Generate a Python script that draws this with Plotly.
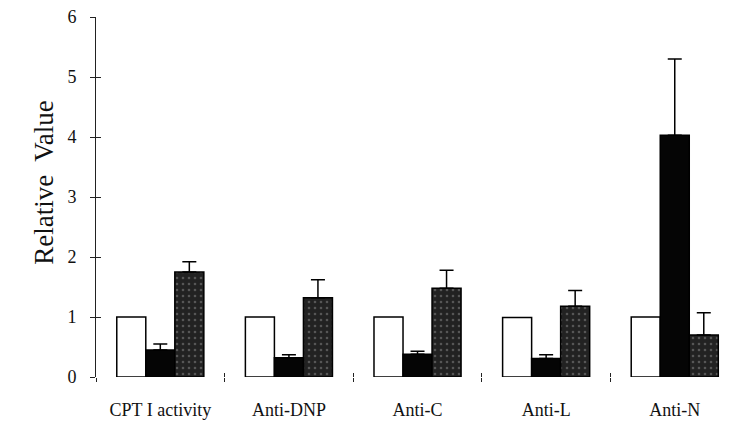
import plotly.graph_objects as go

categories = ["CPT I activity", "Anti-DNP", "Anti-C", "Anti-L", "Anti-N"]
white_vals = [1.0, 1.0, 1.0, 0.99, 1.0]
black_vals = [0.45, 0.32, 0.38, 0.31, 4.03]
black_err = [0.10, 0.05, 0.05, 0.06, 1.27]
gray_vals = [1.75, 1.32, 1.48, 1.18, 0.70]
gray_err = [0.17, 0.30, 0.30, 0.26, 0.37]
y_ticks = [0, 1, 2, 3, 4, 5, 6]
y_title = "Relative  Value"

FONT = "Liberation Serif, Times New Roman, serif"

fig = go.Figure()
fig.add_trace(go.Bar(
    x=categories, y=white_vals, name="control",
    marker=dict(color="white", line=dict(color="black", width=1.5)),
))
fig.add_trace(go.Bar(
    x=categories, y=black_vals, name="black",
    marker=dict(color="#050505", line=dict(color="black", width=1.5)),
    error_y=dict(type="data", array=black_err, arrayminus=[0] * len(black_err),
                 symmetric=False, color="black", thickness=1.5, width=7),
))
fig.add_trace(go.Bar(
    x=categories, y=gray_vals, name="gray",
    marker=dict(color="#222222", line=dict(color="black", width=1.5),
                pattern=dict(shape=".", fillmode="overlay", bgcolor="#222222",
                             fgcolor="#8a8a8a", size=6, solidity=0.15)),
    error_y=dict(type="data", array=gray_err, arrayminus=[0] * len(gray_err),
                 symmetric=False, color="black", thickness=1.5, width=7),
))
# invisible helper trace for crossing ("+") ticks
fig.add_trace(go.Scatter(
    x=categories, y=white_vals, xaxis="x2", yaxis="y2", mode="markers",
    marker=dict(opacity=0), hoverinfo="skip", showlegend=False,
))

fig.update_layout(
    width=737, height=421,
    margin=dict(l=96, r=0, t=17, b=44),
    paper_bgcolor="white", plot_bgcolor="white",
    barmode="group", bargap=0.323, bargroupgap=0,
    showlegend=False,
    font=dict(family=FONT, color="#111", size=18),
    xaxis=dict(
        type="category", range=[-0.5, 4.484],
        showline=False, showgrid=False, zeroline=False,
        ticks="outside", tickson="boundaries", ticklen=4, tickwidth=1, tickcolor="#222",
        tickfont=dict(family=FONT, size=18, color="#111"),
        ticklabelstandoff=20,
    ),
    yaxis=dict(
        range=[0, 6], tickvals=y_ticks,
        showline=True, linecolor="#222", linewidth=1,
        showgrid=False, zeroline=False,
        ticks="outside", ticklen=5, tickwidth=1, tickcolor="#222",
        tickfont=dict(family=FONT, size=18, color="#111"),
        ticklabelstandoff=10,
        automargin=False,
    ),
    xaxis2=dict(
        type="category", range=[-0.5, 4.484], overlaying="x", anchor="y2",
        showline=False, showgrid=False, zeroline=False, showticklabels=False,
        ticks="inside", tickson="boundaries", ticklen=4, tickwidth=1, tickcolor="#222",
    ),
    yaxis2=dict(
        range=[0, 6], tickvals=y_ticks, overlaying="y", anchor="x2", side="left",
        showline=False, showgrid=False, zeroline=False, showticklabels=False,
        ticks="inside", ticklen=5, tickwidth=1, tickcolor="#222",
    ),
    annotations=[dict(
        text=y_title, textangle=-90, showarrow=False,
        xref="paper", yref="paper", x=-0.081, y=0.54,
        xanchor="center", yanchor="middle",
        font=dict(family=FONT, size=27, color="#111"),
    )],
)

fig.write_html("out.html", config={"displayModeBar": False},
               post_script="document.body.style.margin='0';document.body.style.overflow='hidden';")
